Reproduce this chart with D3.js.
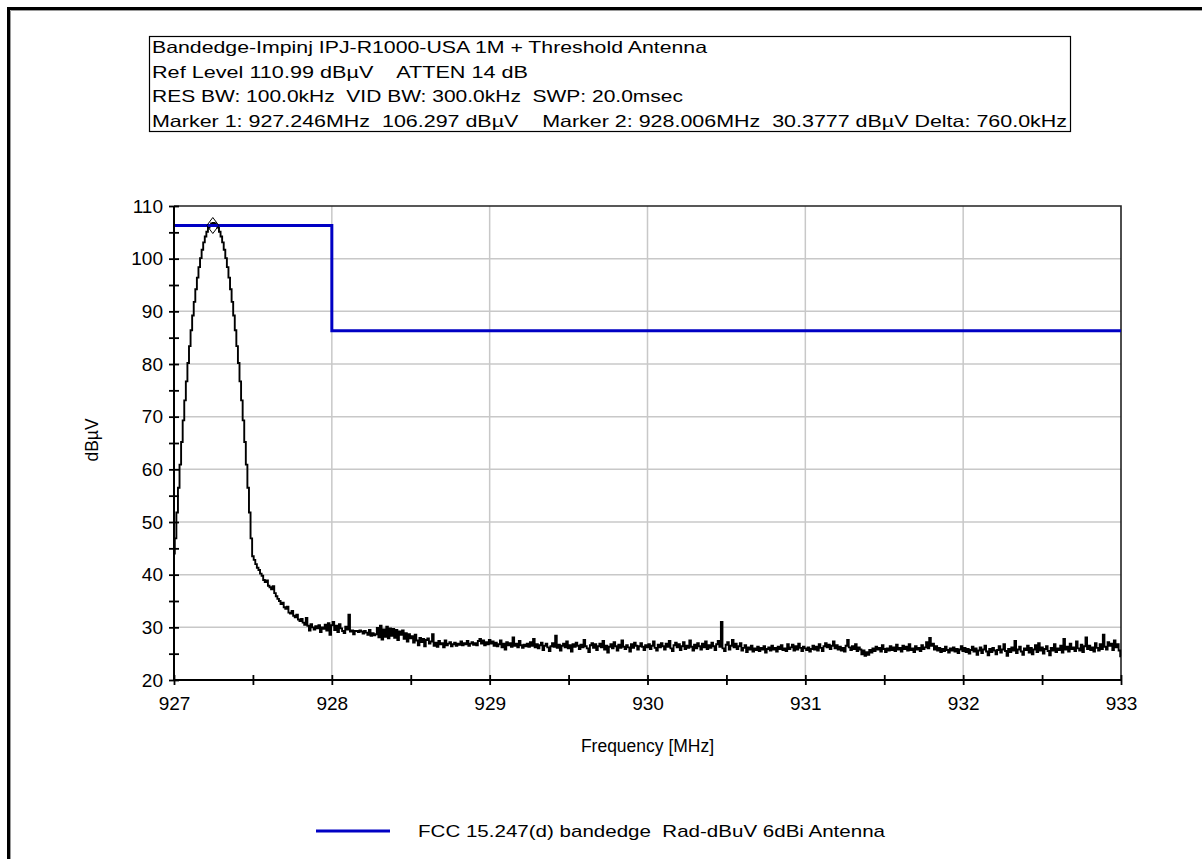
<!DOCTYPE html>
<html>
<head>
<meta charset="utf-8">
<script src="https://cdn.jsdelivr.net/npm/d3@7"></script>
<style>
  html, body { margin: 0; padding: 0; background: #fff; }
  svg { display: block; font-family: "Liberation Sans", Arial, sans-serif; }
  svg text { white-space: pre; }
</style>
</head>
<body>
<svg id="chart" width="1202" height="859"></svg>
<script>
// ---------------- data ----------------
const headerLines = [
  "Bandedge-Impinj IPJ-R1000-USA 1M + Threshold Antenna",
  "Ref Level 110.99 dBµV    ATTEN 14 dB",
  "RES BW: 100.0kHz  VID BW: 300.0kHz  SWP: 20.0msec",
  "Marker 1: 927.246MHz  106.297 dBµV    Marker 2: 928.006MHz  30.3777 dBµV Delta: 760.0kHz"
];
const xTickValues = [927, 928, 929, 930, 931, 932, 933];
const xMinorValues = [927.5, 928.5, 929.5, 930.5, 931.5, 932.5];
const yTickValues = [20, 30, 40, 50, 60, 70, 80, 90, 100, 110];
const yMinorValues = [25, 35, 45, 55, 65, 75, 85, 95, 105];

const sweepStart = 927;   // MHz
const sweepStop = 933;    // MHz
const traceLevels = [
  44.0, 46.9, 51.8, 56.5, 60.9, 65.2, 69.3, 73.1, 76.7, 80.2,
  83.4, 86.4, 89.2, 91.8, 94.2, 96.4, 98.4, 100.1, 101.7, 103.1,
  104.2, 105.1, 105.9, 106.4, 106.7, 106.8, 106.7, 106.4, 105.9, 105.1,
  104.2, 103.1, 101.7, 100.1, 98.4, 96.4, 94.2, 91.8, 89.2, 86.4,
  83.4, 80.2, 76.7, 73.1, 69.3, 65.2, 60.9, 56.5, 51.8, 46.9,
  43.5, 42.8, 42.0, 41.3, 40.9, 40.2, 39.8, 39.0, 38.6, 38.9,
  37.9, 37.6, 37.2, 37.8, 36.5, 35.9, 35.4, 35.0, 34.4, 34.7,
  33.8, 33.5, 33.9, 32.8, 32.6, 33.1, 32.2, 31.9, 32.4, 31.5,
  31.2, 31.6, 30.9, 30.5, 31.8, 30.3, 29.4, 30.6, 30.0, 29.6,
  30.2, 29.8, 30.4, 29.1, 30.0, 29.7, 30.5, 29.4, 30.8, 28.6,
  30.4, 31.0, 29.5, 30.3, 29.1, 30.6, 29.8, 29.3, 28.9, 30.1,
  29.6, 32.4, 29.2, 29.4, 28.7, 29.3, 29.3, 29.1, 29.4, 29.2,
  28.8, 29.3, 29.0, 28.6, 29.5, 28.4, 28.9, 28.5, 28.7, 29.9,
  28.1, 30.3, 27.7, 29.6, 28.2, 30.1, 27.9, 29.8, 28.4, 29.7,
  28.0, 29.5, 27.6, 29.2, 28.6, 29.4, 27.8, 28.9, 27.3, 28.7,
  27.9, 28.3, 27.1, 28.6, 27.5, 26.6, 28.0, 27.2, 27.8, 26.4,
  27.6, 27.9, 26.9, 27.3, 28.7, 26.5, 27.1, 26.3, 27.4, 26.8,
  27.0, 26.2, 27.5, 26.6, 26.9, 27.2, 26.4, 26.8, 27.1, 26.5,
  26.9, 26.7, 27.3, 26.6, 27.0, 26.8, 27.4, 26.5, 26.9, 27.2,
  26.7, 27.0, 26.6, 27.4, 27.8, 26.9, 27.5, 26.6, 27.2, 26.8,
  27.6, 26.9, 27.3, 26.5, 27.1, 26.4, 26.8, 27.5, 26.2, 26.9,
  25.8, 27.2, 26.6, 27.0, 26.3, 28.1, 26.5, 26.9, 26.2, 27.4,
  26.6, 26.1, 26.7, 26.4, 26.9, 26.3, 27.2, 26.5, 27.8, 26.2,
  26.8, 26.0, 26.6, 27.1, 25.7, 26.5, 26.9, 26.2, 25.5, 26.4,
  27.0, 26.3, 28.4, 26.1, 26.7, 25.6, 26.5, 26.9, 26.2, 27.3,
  26.0, 26.6, 25.4, 26.8, 26.3, 27.1, 26.5, 25.9, 26.7, 26.2,
  27.6, 26.4, 26.0, 25.3, 26.6, 27.0, 26.1, 26.8, 25.7, 26.4,
  26.9, 26.2, 27.4, 25.8, 26.5, 25.2, 26.3, 26.8, 26.0, 27.2,
  26.4, 25.6, 26.7, 26.1, 27.5, 26.3, 25.9, 26.6, 26.2, 25.4,
  26.8, 26.1, 27.1, 26.5, 25.8, 26.4, 27.0, 26.3, 25.7, 26.6,
  26.2, 26.8, 25.9, 26.5, 27.3, 26.1, 25.6, 26.7, 26.2, 27.0,
  26.4, 25.8, 26.9, 26.3, 27.4, 26.0, 25.5, 26.6, 27.1, 26.2,
  26.8, 25.7, 26.4, 27.2, 25.9, 26.5, 26.1, 27.5, 26.3, 25.6,
  26.7, 26.0, 27.0, 26.4, 25.8, 26.9, 26.2, 27.3, 25.9, 26.6,
  26.1, 27.1, 26.4, 25.7, 26.8, 27.4, 26.3, 31.0, 26.0, 25.5,
  26.7, 27.2, 25.8, 26.5, 27.6, 26.2, 26.9, 25.9, 26.4, 27.0,
  25.6, 26.1, 26.6, 25.3, 26.2, 25.8, 26.5, 25.4, 26.0, 25.7,
  26.3, 25.5, 26.1, 25.8, 26.4, 25.2, 25.9, 26.2, 25.6, 26.5,
  25.8, 26.1, 25.4, 26.3, 25.9, 26.6, 25.7, 26.0, 25.5, 26.8,
  25.9, 26.2, 26.7, 25.6, 26.4, 25.8, 26.9, 26.1, 25.5, 26.3,
  26.0, 25.7, 26.2, 25.4, 25.9, 26.5, 25.8, 26.3, 25.6, 26.8,
  26.1, 25.5, 26.4, 27.0, 26.2, 26.7, 25.9, 26.5, 27.3, 26.0,
  26.6, 25.8, 26.3, 25.6, 26.1, 25.4, 26.5, 27.6, 26.2, 25.7,
  26.4, 25.9, 26.8, 25.5, 26.2, 25.8, 24.9, 25.6, 24.6, 25.3,
  24.8, 25.7, 25.2, 26.0, 25.5, 26.3, 25.8, 26.1, 25.4, 26.6,
  25.9, 25.3, 26.0, 25.6, 26.4, 25.7, 26.2, 25.5, 26.7, 25.8,
  26.1, 25.4, 26.5, 25.9, 26.3, 25.6, 26.8, 25.7, 26.0, 25.3,
  26.4, 25.8, 26.1, 25.5, 26.6, 25.9, 26.2, 27.2, 26.0, 28.0,
  26.5, 26.9, 25.8, 26.4, 25.6, 26.1, 25.3, 25.9, 25.5, 26.3,
  25.7, 25.2, 26.0, 25.6, 26.2, 25.4, 25.9, 25.1, 25.8, 26.4,
  25.5, 26.1, 25.3, 25.9, 25.0, 25.7, 26.3, 25.4, 26.0, 24.8,
  25.6, 26.2, 25.1, 25.8, 26.5, 25.4, 24.7, 25.9, 25.3, 26.1,
  25.6, 24.9, 25.7, 26.4, 25.2, 25.8, 26.8, 25.5, 24.6, 25.9,
  25.3, 26.2, 25.6, 27.4, 25.1, 25.8, 26.3, 25.4, 24.8, 26.0,
  25.7, 26.5, 25.2, 26.1, 24.9, 25.8, 26.6, 25.3, 27.0, 25.6,
  26.2, 25.0, 25.9, 26.4, 25.5, 24.7, 26.1, 25.6, 26.8, 25.3,
  26.0, 25.7, 26.5, 25.2, 27.8, 25.8, 26.3, 25.4, 26.9, 25.9,
  26.2, 25.5, 27.3, 26.0, 25.6, 26.7, 25.3, 26.4, 28.1, 25.9,
  26.5, 25.7, 26.2, 25.4, 27.0, 26.1, 25.6, 26.8, 25.9, 28.6,
  26.3, 25.8, 27.2, 26.5, 26.9, 25.7, 27.5, 26.2, 26.8, 25.6,
  24.5
];

const limitFreqs = [927, 928, 928, 933];
const limitLevels = [106.3, 106.3, 86.3, 86.3];
const limitName = "FCC 15.247(d) bandedge  Rad-dBuV 6dBi Antenna";

const markerFreqs = [927.246];
const markerLevels = [106.297];

// ---------------- drawing ----------------
const svg = d3.select("#chart");
const plot = { left: 174, right: 1121, top: 206, bottom: 680 };
const limitColor = "#0000c4";

// outer frame
svg.append("rect").attr("x", 8.5).attr("y", 8.5).attr("width", 1400).attr("height", 1000)
  .attr("fill", "none").attr("stroke", "#000").attr("stroke-width", 3);
svg.append("path").attr("d", "M10.5,1000 V10.5 H1400")
  .attr("fill", "none").attr("stroke", "#9a9a9a").attr("stroke-width", 1);

// header box
const hb = svg.append("g");
hb.append("rect").attr("x", 149.5).attr("y", 36.5).attr("width", 921).attr("height", 95)
  .attr("fill", "#fff").attr("stroke", "#000").attr("stroke-width", 1.2);
const headerWidths = [555, 376, 531, 915];
hb.selectAll("text").data(headerLines).join("text")
  .attr("x", 152).attr("y", (d, i) => 53 + i * 24.5)
  .attr("font-size", 16.5).attr("fill", "#000")
  .attr("textLength", (d, i) => headerWidths[i])
  .attr("lengthAdjust", "spacingAndGlyphs")
  .text(d => d);

const x = d3.scaleLinear().domain([sweepStart, sweepStop]).range([plot.left, plot.right]);
const y = d3.scaleLinear().domain([20, 110]).range([plot.bottom, plot.top]);

// grid
const grid = svg.append("g").attr("stroke", "#c8c8c8").attr("stroke-width", 1.5);
grid.selectAll("line.v").data(xTickValues.slice(1, -1)).join("line").attr("class", "v")
  .attr("x1", d => x(d)).attr("x2", d => x(d)).attr("y1", plot.top).attr("y2", plot.bottom);
grid.selectAll("line.h").data(yTickValues.slice(1, -1)).join("line").attr("class", "h")
  .attr("y1", d => y(d)).attr("y2", d => y(d)).attr("x1", plot.left).attr("x2", plot.right);

// top and right frame of plot
svg.append("path")
  .attr("d", `M${plot.left},${plot.top} H${plot.right} V${plot.bottom}`)
  .attr("fill", "none").attr("stroke", "#222").attr("stroke-width", 1.6);

// trace
const traceData = traceLevels.map((v, i) => [sweepStart + (sweepStop - sweepStart) * i / (traceLevels.length - 1), v]);
svg.append("path").datum(traceData)
  .attr("fill", "none").attr("stroke", "#000").attr("stroke-width", 1.9)
  .attr("stroke-linejoin", "miter")
  .attr("d", d3.line().curve(d3.curveStep).x(d => x(d[0])).y(d => y(d[1])));

// limit line
const limitData = limitFreqs.map((f, i) => [f, limitLevels[i]]);
svg.append("path").datum(limitData)
  .attr("fill", "none").attr("stroke", limitColor).attr("stroke-width", 3)
  .attr("d", d3.line().x(d => x(d[0])).y(d => y(d[1])));

// marker
svg.selectAll("path.marker").data(markerFreqs).join("path").attr("class", "marker")
  .attr("transform", (d, i) => `translate(${x(d)},${y(markerLevels[i])})`)
  .attr("d", "M0,-8 L6,0 L0,8 L-6,0 Z")
  .attr("fill", "none").attr("stroke", "#000").attr("stroke-width", 1);

// axes
function crossTicks(g, dir) {
  g.select(".domain").remove();
  if (dir === "y") g.selectAll(".tick line").attr("x1", 5).attr("x2", -5);
  else g.selectAll(".tick line").attr("y1", -5).attr("y2", 5);
  g.selectAll(".tick line").attr("stroke", "#000").attr("stroke-width", 1.8);
  g.selectAll("text").attr("font-size", 19).attr("fill", "#000")
    .attr("font-family", "'Liberation Sans', Arial, sans-serif");
}
svg.append("g").attr("transform", `translate(${plot.left},0)`)
  .call(d3.axisLeft(y).tickValues(yTickValues).tickSize(5).tickPadding(6).tickFormat(d3.format("d")))
  .call(g => crossTicks(g, "y"));
svg.append("g").attr("transform", `translate(${plot.left},0)`)
  .call(d3.axisLeft(y).tickValues(yMinorValues).tickSize(5).tickFormat(""))
  .call(g => crossTicks(g, "y"));
svg.append("g").attr("transform", `translate(0,${plot.bottom})`)
  .call(d3.axisBottom(x).tickValues(xTickValues).tickSize(5).tickPadding(12).tickFormat(d3.format("d")))
  .call(g => crossTicks(g, "x"));
svg.append("g").attr("transform", `translate(0,${plot.bottom})`)
  .call(d3.axisBottom(x).tickValues(xMinorValues).tickSize(5).tickFormat(""))
  .call(g => crossTicks(g, "x"));

// axis lines
svg.append("path")
  .attr("d", `M${plot.left},${plot.top} V${plot.bottom} H${plot.right}`)
  .attr("fill", "none").attr("stroke", "#000").attr("stroke-width", 2);

// axis titles
svg.append("text").attr("transform", "translate(98,440) rotate(-90)")
  .attr("text-anchor", "middle").attr("font-size", 17.5).text("dBµV");
svg.append("text").attr("x", (plot.left + plot.right) / 2).attr("y", 752)
  .attr("text-anchor", "middle").attr("font-size", 17.5).text("Frequency [MHz]");

// legend
const lg = svg.append("g");
lg.append("line").attr("x1", 316).attr("x2", 390).attr("y1", 831).attr("y2", 831)
  .attr("stroke", limitColor).attr("stroke-width", 3);
lg.append("text").attr("x", 418).attr("y", 837).attr("font-size", 17)
  .attr("textLength", 467).attr("lengthAdjust", "spacingAndGlyphs")
  .text(limitName);
</script>
</body>
</html>
